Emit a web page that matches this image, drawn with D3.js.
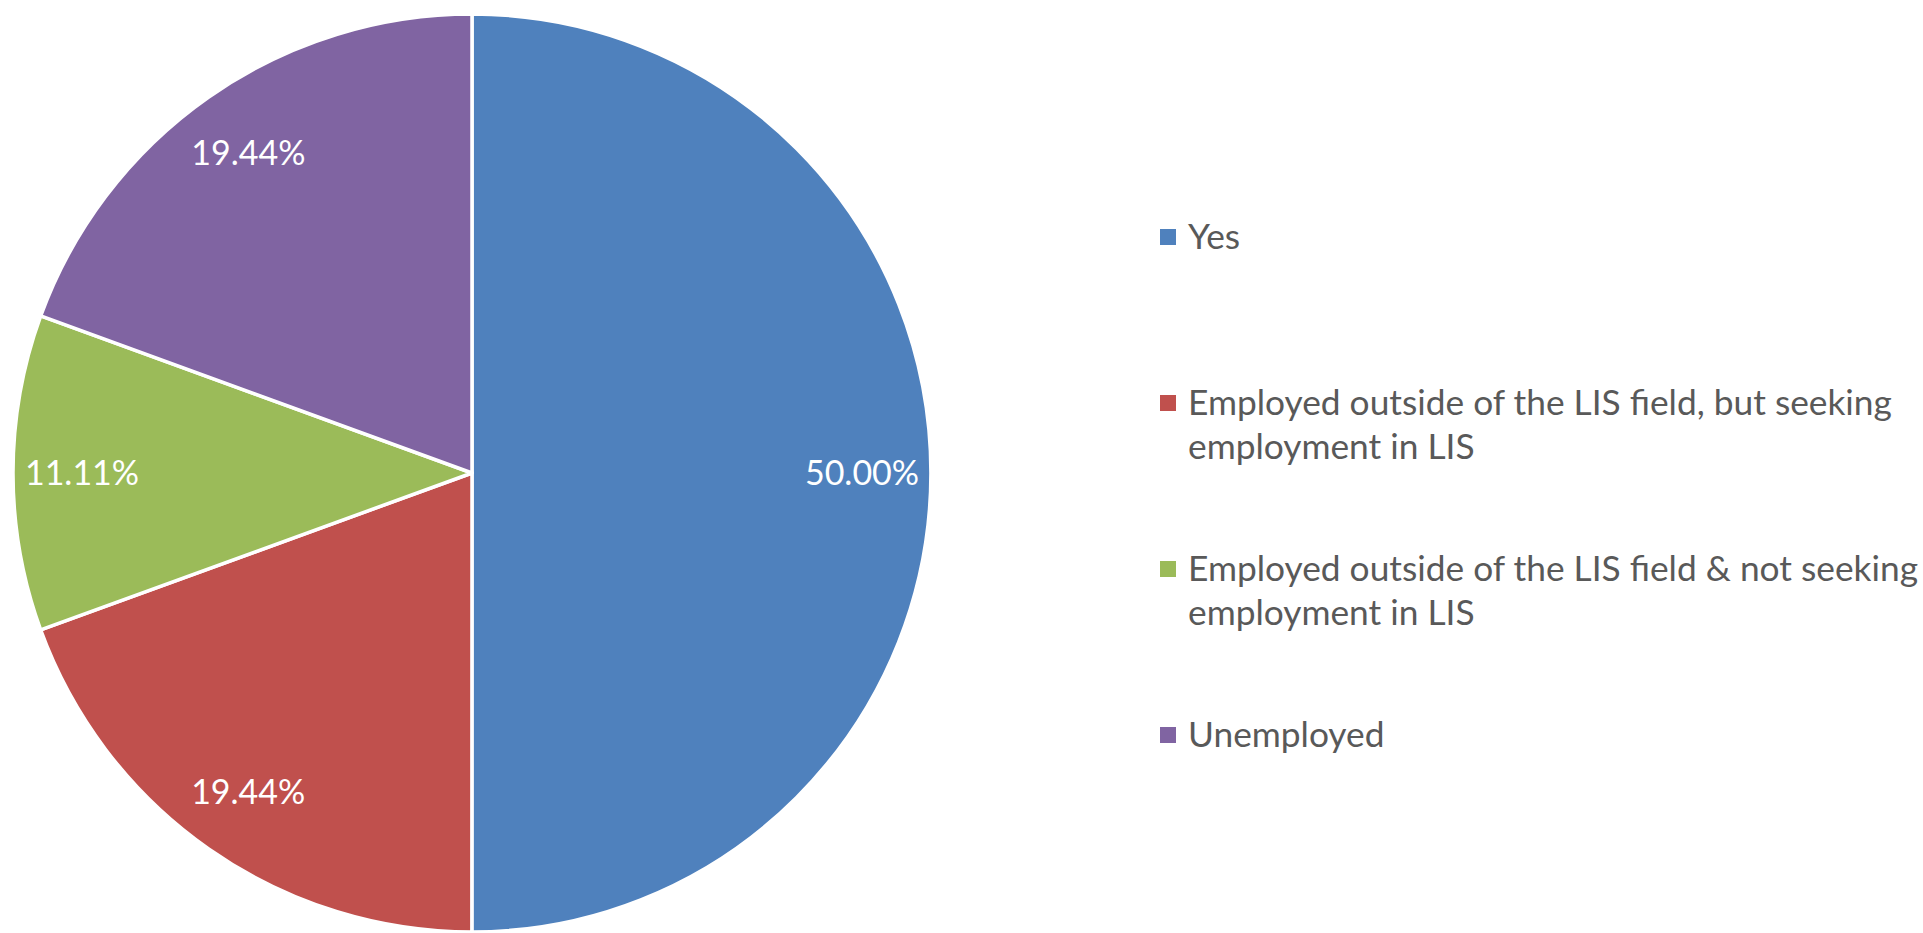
<!DOCTYPE html>
<html>
  <head>
    <meta charset="utf-8" />
    <title>LIS employment pie</title>
    <script src="https://d3js.org/d3.v7.min.js"></script>
    <style>
        body { margin: 0; background: #fff; }
        .legendText, .sliceLabel {
            font-family: Lato, "Open Sans", sans-serif;
        }
        .legendText { fill: #595959; font-size: 35.3px; }
        .sliceLabel { fill: #fff; font-size: 34px; }
    </style>
  </head>
<body>
    <svg id="pie-viz" width="1923" height="933"></svg>

    <script>
        // data
        var categories = [
            "Yes",
            "Employed outside of the LIS field, but seeking employment in LIS",
            "Employed outside of the LIS field & not seeking employment in LIS",
            "Unemployed"
        ];
        var shares = [50.00, 19.44, 11.11, 19.44];
        // legend lines as wrapped in the original
        var legendLines = [
            ["Yes"],
            ["Employed outside of the LIS field, but seeking", "employment in LIS"],
            ["Employed outside of the LIS field & not seeking", "employment in LIS"],
            ["Unemployed"]
        ];
        var colors = ["#4F81BD", "#C0504D", "#9BBB59", "#8064A2"];

        var svg = d3.select("#pie-viz");

        var cx = 472, cy = 473, radius = 459;

        var data = categories.map(function(c, i) {
            return { name: c, value: shares[i], color: colors[i], lines: legendLines[i] };
        });

        var pie = d3.pie()
            .sort(null)
            .value(function(d) { return d.value; });

        var arc = d3.arc()
            .innerRadius(0)
            .outerRadius(radius);

        var labelArc = d3.arc()
            .innerRadius(390)
            .outerRadius(390);

        var g = svg.append("g")
            .attr("transform", "translate(" + cx + "," + cy + ")");

        var slices = g.selectAll("g.slice")
            .data(pie(data))
            .enter().append("g")
            .attr("class", "slice");

        slices.append("path")
            .attr("d", arc)
            .attr("fill", function(d) { return d.data.color; })
            .attr("stroke", "#fff")
            .attr("stroke-width", 3.5)
            .attr("stroke-linejoin", "round");

        slices.append("text")
            .attr("class", "sliceLabel")
            .attr("transform", function(d) {
                return "translate(" + labelArc.centroid(d) + ")";
            })
            .attr("text-anchor", "middle")
            .attr("dy", "0.35em")
            .text(function(d) { return d.data.value.toFixed(2) + "%"; });

        // legend
        var legendX = 1160, legendY = 237, rowStep = 166, lineStep = 44, box = 16;

        var legend = svg.append("g");

        var rows = legend.selectAll("g.row")
            .data(data)
            .enter().append("g")
            .attr("class", "row")
            .attr("transform", function(d, i) {
                return "translate(" + legendX + "," + (legendY + i * rowStep) + ")";
            });

        rows.append("rect")
            .attr("x", 0)
            .attr("y", -box / 2)
            .attr("width", box)
            .attr("height", box)
            .attr("fill", function(d) { return d.color; });

        rows.append("text")
            .attr("class", "legendText")
            .attr("x", 28)
            .selectAll("tspan")
            .data(function(d) { return d.lines; })
            .enter().append("tspan")
            .attr("x", 28)
            .attr("y", function(d, j) { return j * lineStep; })
            .attr("dy", "0.35em")
            .text(function(d) { return d; });
    </script>
</body>
</html>
